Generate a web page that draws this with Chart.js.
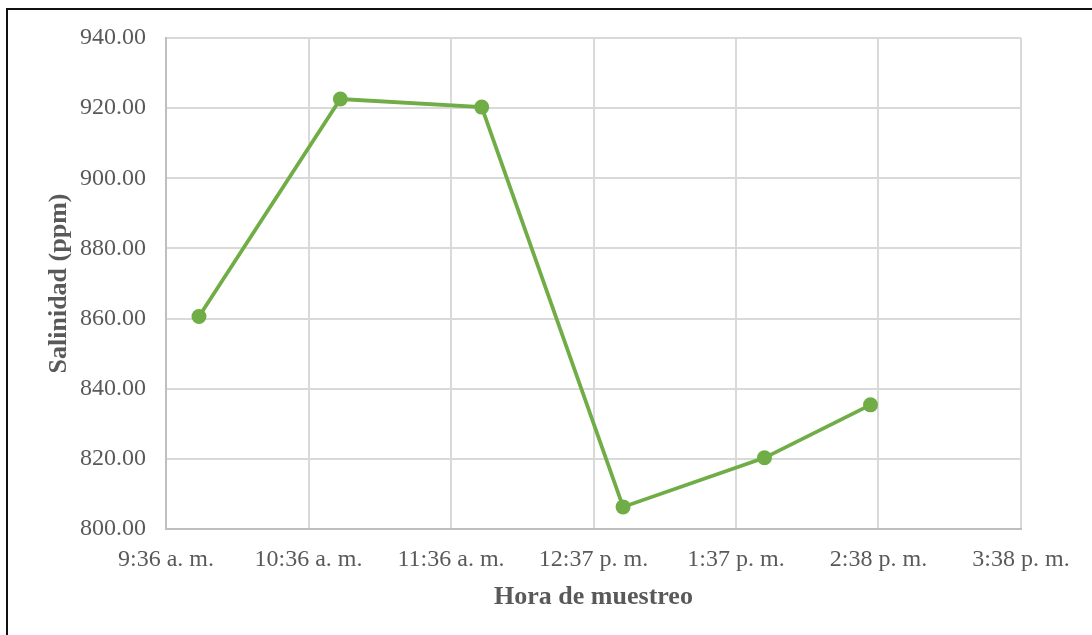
<!DOCTYPE html>
<html>
<head>
<meta charset="utf-8">
<script src="https://cdn.jsdelivr.net/npm/chart.js@4.4.1/dist/chart.umd.min.js"></script>
<style>
  html, body { margin: 0; padding: 0; background: #fff; }
  #wrap { position: relative; width: 1092px; height: 635px; overflow: hidden; }
  #salinityChart { position: absolute; left: 0; top: 0; }
  #frame {
    position: absolute; left: 6px; top: 8px; width: 1200px; height: 700px;
    border-left: 2px solid #111; border-top: 2px solid #111; pointer-events: none;
  }
</style>
</head>
<body>
<div id="wrap">
  <canvas id="salinityChart" width="1092" height="635"></canvas>
  <div id="frame"></div>
</div>
<script>
// Hora de muestreo, en minutos desde medianoche (9:50, 10:50, 11:50, 12:50, 13:50, 14:35)
const sampleMinutes = [590, 650, 710, 770, 830, 875];
// Salinidad medida (ppm)
const salinity = [860.6, 922.6, 920.3, 806.3, 820.3, 835.4];

// Eje X (escala de fechas de Excel: paso de 0.042 días)
const xMin = 576;
const xMax = 938.88;
const xStep = 60.48;
const xTickLabels = [
  "9:36 a. m.", "10:36 a. m.", "11:36 a. m.", "12:37 p. m.",
  "1:37 p. m.", "2:38 p. m.", "3:38 p. m."
];

// Eje Y
const yMin = 800;
const yMax = 940;
const yStep = 20;

const serif = '"Liberation Serif", "Times New Roman", serif';
const textColor = "#595959";

const points = sampleMinutes.map((m, i) => ({ x: m, y: salinity[i] }));

new Chart(document.getElementById("salinityChart"), {
  type: "line",
  data: {
    datasets: [
      {
        label: "Salinidad",
        data: points,
        borderColor: "#70AD47",
        backgroundColor: "#70AD47",
        borderWidth: 3.75,
        pointRadius: 7.5,
        pointHoverRadius: 7.5,
        pointBorderWidth: 0,
        tension: 0,
      },
    ],
  },
  options: {
    responsive: false,
    animation: false,
    devicePixelRatio: 1,
    layout: { padding: { left: 0, right: 71, top: 38, bottom: 0 } },
    plugins: {
      legend: { display: false },
      tooltip: { enabled: false },
    },
    scales: {
      x: {
        type: "linear",
        min: xMin,
        max: xMax,
        grid: { color: "#d9d9d9", lineWidth: 2, drawTicks: false },
        border: { color: "#bfbfbf", width: 2 },
        ticks: {
          stepSize: xStep,
          autoSkip: false,
          maxRotation: 0,
          padding: 16,
          color: textColor,
          font: { family: serif, size: 24 },
          callback: (value, index) => xTickLabels[index],
        },
        title: {
          display: true,
          text: "Hora de muestreo",
          color: textColor,
          font: { family: serif, size: 26, weight: "bold" },
          padding: { top: 0, bottom: 22 },
        },
        afterFit: (scale) => { scale.height = 106; },
      },
      y: {
        min: yMin,
        max: yMax,
        grid: { color: "#d9d9d9", lineWidth: 2, drawTicks: false },
        border: { color: "#bfbfbf", width: 2 },
        ticks: {
          stepSize: yStep,
          padding: 20,
          color: textColor,
          font: { family: serif, size: 24 },
          callback: (value) => value.toFixed(2),
        },
        title: {
          display: true,
          text: "Salinidad (ppm)",
          color: textColor,
          font: { family: serif, size: 26, weight: "bold" },
          padding: { top: 44, bottom: 0 },
        },
        afterFit: (scale) => { scale.width = 166; },
      },
    },
  },
});
</script>
</body>
</html>
